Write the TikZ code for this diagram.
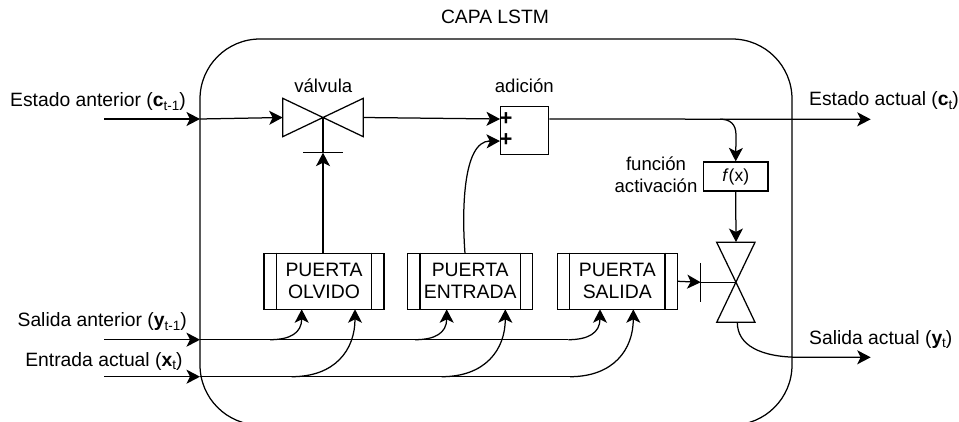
\documentclass[tikz,border=0pt]{standalone}
\usepackage{fontspec}
\setmainfont{Liberation Sans}
\usetikzlibrary{arrows.meta}
\newcommand{\subt}[1]{\raisebox{-3.5pt}{\fontsize{13.5}{14}\selectfont #1}}
\tikzset{
  line/.style={line width=1.25pt,black},
  flow/.style={line,-{Stealth[length=13.5pt,width=14pt,inset=3.5pt]}},
  lbl/.style={inner sep=0pt,font=\fontsize{19.3}{22}\selectfont,align=center},
  box/.style={line,draw,inner sep=0pt},
  gatebox/.style={box,minimum height=56pt,font=\fontsize{19.4}{22}\selectfont,align=center},
  plus/.style={inner sep=0pt,font=\fontsize{22}{22}\selectfont\bfseries},
}
\begin{document}
\begin{tikzpicture}[x=1pt,y=-1pt]
\useasboundingbox (0,0) rectangle (959,422);
\fill[white] (0,0) rectangle (959,422);
\begin{scope}
\clip (0,0) rectangle (959,422);
\node[box,rounded corners=60pt,minimum width=592pt,minimum height=386pt] (layer) at (496,232) {};
\end{scope}
% labels
\node[lbl,anchor=base] (title) at (495,23.3) {CAPA LSTM};
\node[lbl,anchor=base east] (lea) at (186,106.7) {Estado anterior (\textbf{c}\subt{t-1})};
\node[lbl,anchor=base east] (lsa) at (187,326.7) {Salida anterior (\textbf{y}\subt{t-1})};
\node[lbl,anchor=base east] (lia) at (182.7,366) {Entrada actual (\textbf{x}\subt{t})};
\node[lbl,anchor=base west] (lec) at (809,106) {Estado actual (\textbf{c}\subt{t})};
\node[lbl,anchor=base west] (lsc) at (809,344) {Salida actual (\textbf{y}\subt{t})};
\node[lbl,anchor=base,font=\fontsize{18.6}{22}\selectfont] (lv) at (323.3,92.7) {válvula};
\node[lbl,anchor=base,font=\fontsize{18.6}{22}\selectfont] (ladd) at (524.3,92.7) {adición};
\node[lbl,font=\fontsize{18.6}{21.7}\selectfont] (lf) at (656,174.5) {función\\activación};
% gates
\node[gatebox,minimum width=120pt] (olv) at (324,281.3) {PUERTA\\OLVIDO};
\node[gatebox,minimum width=125pt] (ent) at (470.2,281.3) {PUERTA\\ENTRADA};
\node[gatebox,minimum width=120pt] (sal) at (617.3,281.3) {PUERTA\\SALIDA};
\foreach \n in {olv,ent,sal} {
  \draw[line] ([xshift=13pt]\n.north west) -- ([xshift=13pt]\n.south west);
  \draw[line] ([xshift=-13pt]\n.north east) -- ([xshift=-13pt]\n.south east);
}
% adder and f(x)
\node[box,minimum width=48.4pt,minimum height=48pt] (add) at (524.5,130.7) {};
\node[plus] (p1) at (506,118.7) {+};
\node[plus] (p2) at (506,140) {+};
\node[box,minimum width=64.7pt,minimum height=29pt,font=\fontsize{17.5}{17}\selectfont] (fx) at (735.7,176.5) {\textit{f}(x)};
% valve 1
\coordinate (v1) at (323,117.5);
\coordinate (v1l) at (282.7,117.5);
\coordinate (v1r) at (363.3,117.5);
\coordinate (v1b) at (323,152.7);
\draw[line,line join=miter] (v1) -- (282.7,98.3) -- (282.7,136.7) -- (363.3,98.3) -- (363.3,136.7) -- cycle;
\draw[line] (v1) -- (v1b);
\draw[line] (303,152.7) -- (343,152.7);
% valve 2
\coordinate (v2) at (736,282.3);
\coordinate (v2t) at (736,242);
\coordinate (v2g) at (700.7,282.3);
\draw[line,line join=miter] (v2) -- (716.7,242.3) -- (755,242.3) -- (716.7,322.3) -- (755,322.3) -- cycle;
\draw[line] (v2) -- (v2g);
\draw[line] (700.7,263) -- (700.7,302);
% connectors
\coordinate (inE) at (104,119);
\coordinate (portE) at (200,119);
\coordinate (inS) at (104,339.7);
\coordinate (portS) at (200,339.7);
\coordinate (inI) at (104,376.7);
\coordinate (portI) at (200,376.7);
\coordinate (a1) at (500,119);
\coordinate (a2) at (500,141);
\coordinate (outE) at (870.7,119.3);
\coordinate (outS) at (870.7,357.3);
\coordinate (bf) at (720,119.2);
\coordinate (v2out) at (737.3,322.3);
\coordinate (s1) at (270,339.7);
\coordinate (s2) at (415,339.7);
\coordinate (s3) at (568.3,339.7);
\coordinate (i1) at (291.7,376.7);
\coordinate (i2) at (441.7,376.7);
\coordinate (i3) at (570,376.7);
\coordinate (o1) at (301.7,309.3);
\coordinate (o2) at (355,309.3);
\coordinate (e1) at (446.7,309.3);
\coordinate (e2) at (505.3,309.3);
\coordinate (g1) at (600,309.3);
\coordinate (g2) at (633.3,309.3);
\draw[flow] (inE) -- (portE);
\draw[flow] (portE) -- (v1l);
\draw[flow] (v1r) -- (a1);
\draw[flow] (add.east |- a1) -- (outE);
\draw[flow] (bf) .. controls (730,119.2) and (736,124) .. (736,135) -- (fx.north);
\draw[flow] (fx.south) -- (v2t);
\draw[flow] (323,253.3) -- (v1b);
\draw[line] (465,253.3) .. controls (462,215) and (462,141) .. (490,141);
\draw[flow] (488,141.3) -- (a2);
\draw[flow] (sal.east) -- (v2g);
\draw[flow] (v2out) .. controls (737.3,345) and (760,357.3) .. (800,357.3) -- (outS);
\draw[flow] (inS) -- (portS);
\draw[flow] (inI) -- (portI);
\draw[line] (portS) -- (s3);
\draw[line] (portI) -- (i3);
\draw[flow] (s1) .. controls (290,339.7) and (301.7,333) .. (o1);
\draw[flow] (i1) .. controls (335,376.7) and (355,350) .. (o2);
\draw[flow] (s2) .. controls (435,339.7) and (446.7,333) .. (e1);
\draw[flow] (i2) .. controls (485,376.7) and (505.3,350) .. (e2);
\draw[flow] (s3) .. controls (588,339.7) and (600,333) .. (g1);
\draw[flow] (i3) .. controls (613,376.7) and (633.3,350) .. (g2);
\end{tikzpicture}
\end{document}
